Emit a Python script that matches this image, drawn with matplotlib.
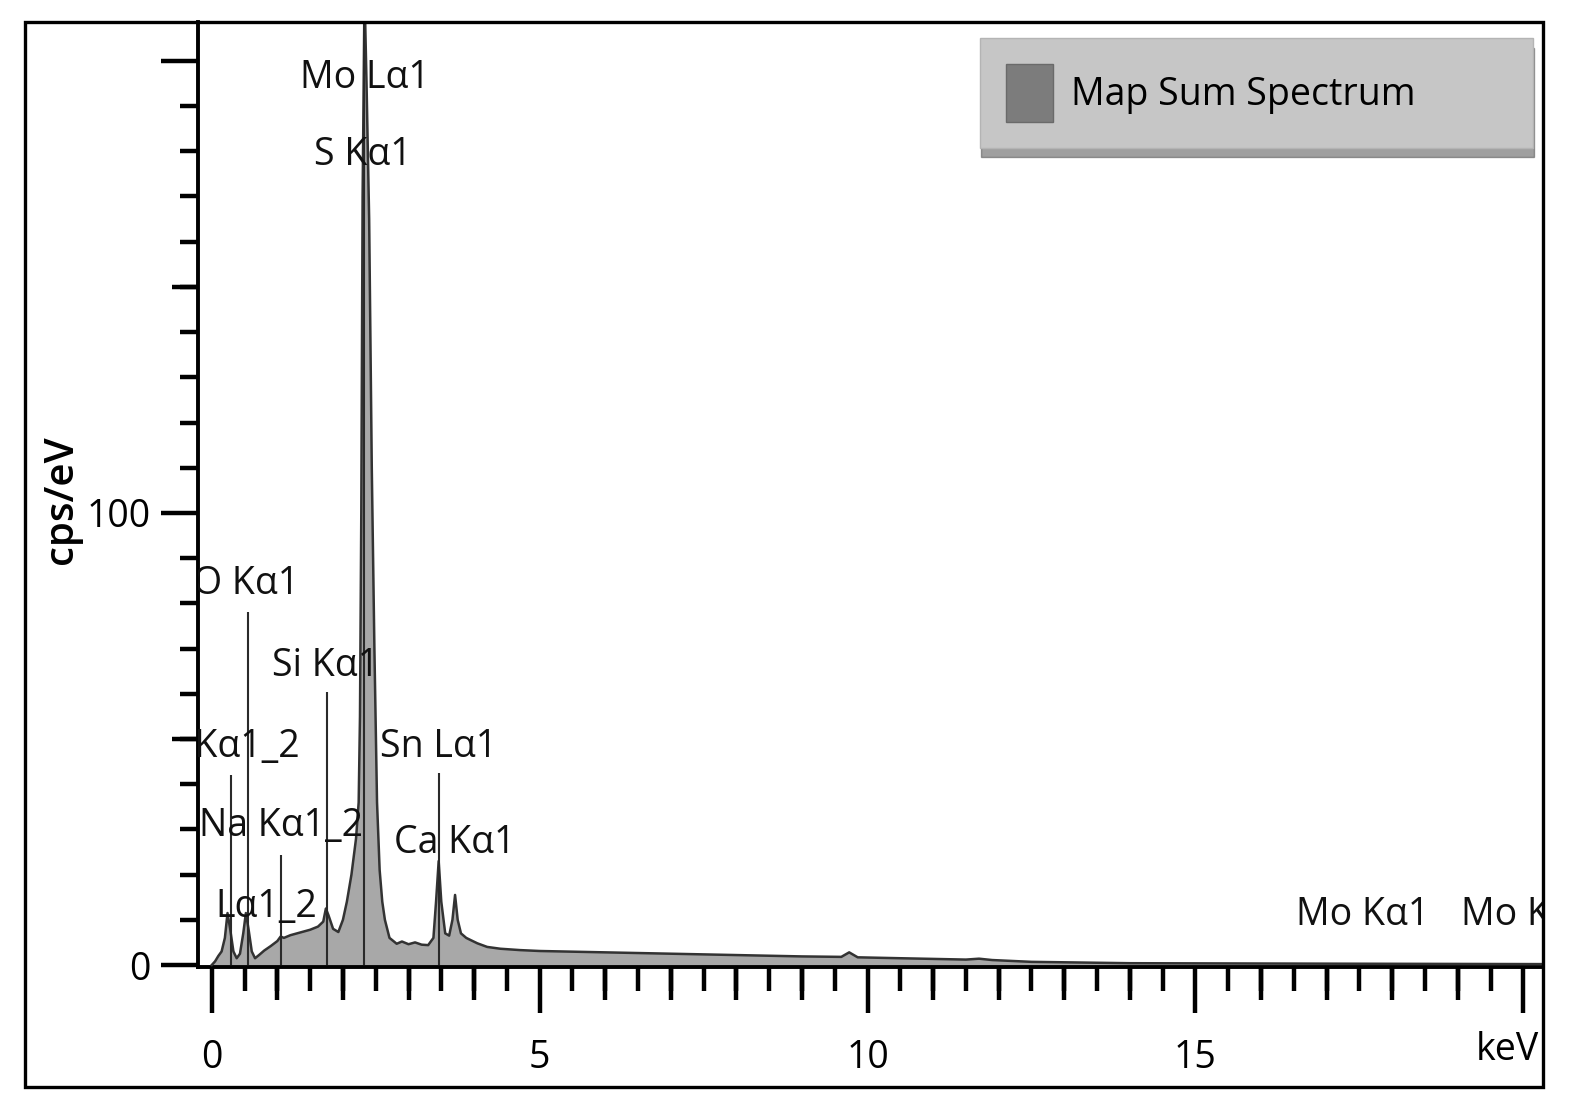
import matplotlib
matplotlib.use('Agg')
import matplotlib.pyplot as plt
from matplotlib.patches import Rectangle, Patch
from matplotlib.ticker import MultipleLocator, NullLocator

plt.rcParams['font.family'] = ['Open Sans', 'DejaVu Sans']

# ---- spectrum ----
energy_kev = [0.00, 0.05, 0.10, 0.15, 0.20, 0.24, 0.28, 0.33, 0.38, 0.43, 0.48, 0.52,
              0.56, 0.61, 0.66, 0.72, 0.80, 0.90, 1.00, 1.05, 1.10, 1.20, 1.35, 1.50,
              1.62, 1.70, 1.74, 1.78, 1.85, 1.93, 2.00, 2.06, 2.13, 2.20, 2.24, 2.26,
              2.28, 2.30, 2.33, 2.36, 2.40, 2.44, 2.48, 2.52, 2.56, 2.60, 2.64, 2.71,
              2.82, 2.90, 3.00, 3.10, 3.20, 3.30, 3.38, 3.42, 3.46, 3.50, 3.56, 3.62,
              3.67, 3.71, 3.75, 3.80, 3.88, 3.95, 4.05, 4.20, 4.40, 4.70, 5.00, 6.00,
              7.00, 8.00, 9.00, 9.60, 9.72, 9.85, 10.50, 11.50, 11.70, 11.90, 12.50,
              14.00, 17.00, 20.30]
counts_cps = [0.0, 0.8, 2.0, 3.0, 6.0, 11.5, 8.0, 3.0, 1.5, 2.5, 7.0, 11.5,
              8.0, 3.0, 1.5, 2.2, 3.2, 4.2, 5.3, 6.3, 6.0, 6.6, 7.2, 7.8,
              8.5, 9.6, 12.5, 11.0, 8.0, 7.3, 10.0, 14.0, 20.0, 28.0, 36.0, 55.0,
              100.0, 170.0, 215.0, 195.0, 165.0, 110.0, 70.0, 36.0, 21.0, 14.0, 10.0, 6.0,
              4.7, 5.2, 4.6, 5.0, 4.5, 4.4, 6.0, 14.0, 23.0, 14.0, 7.0, 6.5,
              10.0, 15.5, 10.0, 7.0, 6.0, 5.5, 4.8, 4.0, 3.6, 3.3, 3.1, 2.8,
              2.5, 2.2, 1.9, 1.8, 2.8, 1.7, 1.5, 1.2, 1.4, 1.1, 0.7,
              0.4, 0.3, 0.2]

# ---- element marker lines ----
marker_x = [0.29, 0.55, 1.05, 1.75, 2.32, 3.46]
marker_top = [42.0, 78.0, 24.3, 60.4, 215.0, 42.5]

# ---- element labels ----
label_text = ['Mo Lα1', 'S Kα1', 'O Kα1', 'Si Kα1', 'C Kα1_2', 'Sn Lα1',
              'Na Kα1_2', 'Ca Kα1', 'Lα1_2', 'Mo Kα1', 'Mo Kβ1']
label_x = [2.33, 2.31, 0.53, 1.74, 0.28, 3.46, 1.05, 3.71, 0.05, 17.55, 19.05]
label_y = [194.0, 177.0, 82.0, 64.0, 46.0, 46.0, 28.5, 24.8, 10.6, 8.8, 8.8]
label_ha = ['center', 'center', 'center', 'center', 'center', 'center',
            'center', 'center', 'left', 'center', 'left']

x_major = [0, 5, 10, 15, 20]
x_major_labels = ['0', '5', '10', '15', '']
y_major = [0, 100, 200]
y_major_labels = ['0', '100', '']
y_mid = [50, 150]

W, H = 1576, 1111
fig = plt.figure(figsize=(W / 100, H / 100), dpi=100)
fig.patch.set_facecolor('white')

ax = fig.add_axes([198 / W, 1 - 967 / H, (1543 - 198) / W, (967 - 22) / H])
ax.set_xlim(-0.21, 20.3)
ax.set_ylim(-0.44, 208.6)

ax.fill_between(energy_kev, counts_cps, 0, facecolor='#a8a8a8', edgecolor='none', zorder=2)
ax.plot(energy_kev, counts_cps, color='#333333', lw=1.8, zorder=3)
ax.vlines(marker_x, 0, marker_top, colors='#2a2a2a', lw=1.5, zorder=4)

for t, x, y, ha in zip(label_text, label_x, label_y, label_ha):
    ax.text(x, y, t, ha=ha, va='baseline', fontsize=27, color='#111111',
            clip_on=True, zorder=5)

# spines
for s in ('top', 'right'):
    ax.spines[s].set_visible(False)
ax.spines['left'].set_linewidth(2.8)
ax.spines['bottom'].set_linewidth(2.8)

# x ticks
ax.set_xticks(x_major)
ax.set_xticklabels(x_major_labels)
ax.xaxis.set_minor_locator(MultipleLocator(0.5))
ax.tick_params(axis='x', which='major', length=33, width=3.2, pad=19, labelsize=27)
ax.tick_params(axis='x', which='minor', length=17, width=3.2)
secx = ax.secondary_xaxis('bottom')
secx.set_xticks([v for v in range(1, 21) if v % 5 != 0])
secx.xaxis.set_minor_locator(NullLocator())
secx.tick_params(axis='x', length=24, width=3.2, labelbottom=False)
secx.spines['bottom'].set_visible(False)

# y ticks
ax.set_yticks(y_major)
ax.set_yticklabels(y_major_labels)
ax.yaxis.set_minor_locator(MultipleLocator(10))
ax.tick_params(axis='y', which='major', length=27, width=3.2, pad=7, labelsize=27)
ax.tick_params(axis='y', which='minor', length=13, width=3.2)
secy = ax.secondary_yaxis('left')
secy.set_yticks(y_mid)
secy.yaxis.set_minor_locator(NullLocator())
secy.tick_params(axis='y', length=19, width=3.2, labelleft=False)
secy.spines['left'].set_visible(False)

fig.text(62 / W, 1 - 500 / H, 'cps/eV', rotation=90, ha='center', va='center',
         fontsize=29, fontweight='semibold')
fig.text(1539 / W, 1 - 1050 / H, 'keV', ha='right', va='center', fontsize=27)

# legend
handle = Patch(facecolor='#7c7c7c', edgecolor='#6a6a6a')
leg = ax.legend([handle], ['Map Sum Spectrum'], loc='upper left',
                bbox_to_anchor=(980 / W, 1 - 148 / H, 553 / W, 110 / H),
                bbox_transform=fig.transFigure, mode='expand', borderaxespad=0,
                fontsize=27, handlelength=1.25, handleheight=2.0,
                handletextpad=0.48, borderpad=0.69, fancybox=False,
                facecolor='#c6c6c6', edgecolor='#b4b4b4', framealpha=1,
                shadow={'ox': 1, 'oy': -7, 'color': '#505050', 'alpha': 0.55})
leg.get_frame().set_linewidth(1.0)

# outer frame
fig.add_artist(Rectangle((25 / W, 1 - 1087 / H), (1543 - 25) / W, (1087 - 22) / H,
                         transform=fig.transFigure, fill=False, lw=2.4,
                         edgecolor='black'))

fig.savefig('out.png', dpi=100)
